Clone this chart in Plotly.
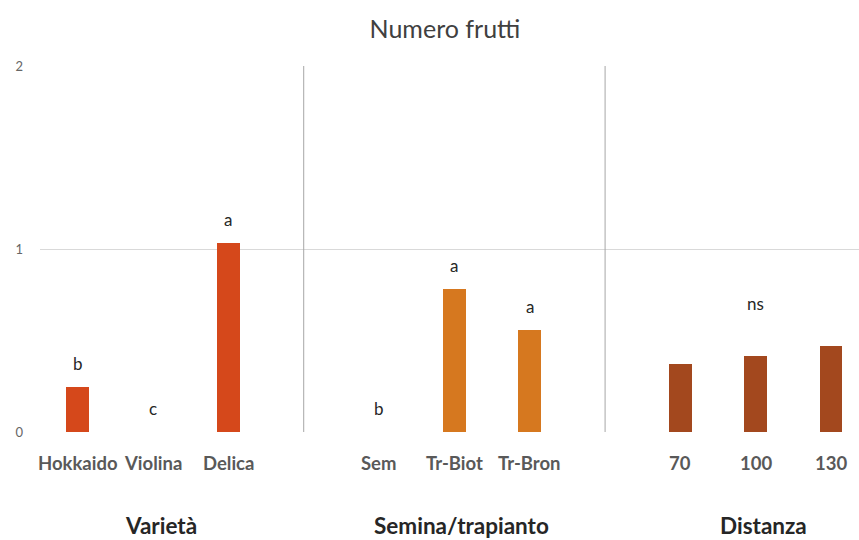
import plotly.graph_objects as go

title = "Numero frutti"
groups = ["Varietà", "Semina/trapianto", "Distanza"]
categories = ["Hokkaido", "Violina", "Delica", "Sem", "Tr-Biot", "Tr-Bron", "70", "100", "130"]
group_of = [0, 0, 0, 1, 1, 1, 2, 2, 2]
values = [0.244, 0.0, 1.033, 0.0, 0.78, 0.557, 0.374, 0.416, 0.47]
letters = ["b", "c", "a", "b", "a", "a", "", "", ""]
group_note = ["", "", "ns"]
group_note_y = [None, None, 0.70]
group_colors = ["#D5481B", "#D6781F", "#A3481E"]
y_ticks = [0, 1, 2]

# positions: one empty slot between groups
xpos = [i + g for i, g in enumerate(group_of)]
n_groups = len(groups)
sep_pos = []
group_centers = []
for g in range(n_groups):
    members = [xpos[i] for i in range(len(categories)) if group_of[i] == g]
    group_centers.append(sum(members) / len(members))
    if g < n_groups - 1:
        sep_pos.append(max(members) + 1)

fig = go.Figure()
fig.add_trace(go.Bar(
    x=xpos, y=values,
    marker=dict(color=[group_colors[g] for g in group_of], line=dict(width=0)),
    width=0.3,
    hoverinfo="x+y",
))

FONT = "Lato"
ann = []
for i, c in enumerate(categories):
    if letters[i]:
        ann.append(dict(x=xpos[i], y=values[i], xref="x", yref="y", text=letters[i],
                        showarrow=False, yanchor="bottom", yshift=11,
                        font=dict(family=FONT, size=17, color="#262626")))
    ann.append(dict(x=xpos[i], y=0, xref="x", yref="y", text=c, showarrow=False,
                    yanchor="middle", yshift=-31,
                    font=dict(family=FONT, size=18.5, color="#595959", weight="bold")))
for g in range(n_groups):
    ann.append(dict(x=group_centers[g] + 0.1, y=0, xref="x", yref="y", text=groups[g],
                    showarrow=False, yanchor="middle", yshift=-93,
                    font=dict(family=FONT, size=22.5, color="#262626", weight="bold")))
    if group_note[g]:
        ann.append(dict(x=group_centers[g], y=group_note_y[g], xref="x", yref="y",
                        text=group_note[g], showarrow=False, yanchor="middle",
                        font=dict(family=FONT, size=17, color="#262626")))

shapes = [dict(type="line", xref="x", yref="y", x0=s, x1=s, y0=0, y1=max(y_ticks),
               line=dict(color="#A6A6A6", width=1)) for s in sep_pos]

fig.update_layout(
    width=859, height=540,
    margin=dict(l=40, r=0, t=66, b=108),
    plot_bgcolor="white", paper_bgcolor="white",
    showlegend=False,
    title=dict(text=title, x=0.518, xanchor="center", y=1 - 29 / 540, yanchor="middle",
               font=dict(family=FONT, size=25, color="#404040")),
    annotations=ann, shapes=shapes,
    bargap=0,
)
fig.update_xaxes(range=[-0.5, 10.37], showticklabels=False, showgrid=False,
                 zeroline=False, showline=False, ticks="")
fig.update_yaxes(range=[0, 2], tickvals=y_ticks, showgrid=True, gridcolor="#D9D9D9",
                 gridwidth=1, zeroline=False, showline=False, ticks="",
                 ticklabelstandoff=16,
                 tickfont=dict(family=FONT, size=13, color="#666666"))

fig.write_html("out.html")
